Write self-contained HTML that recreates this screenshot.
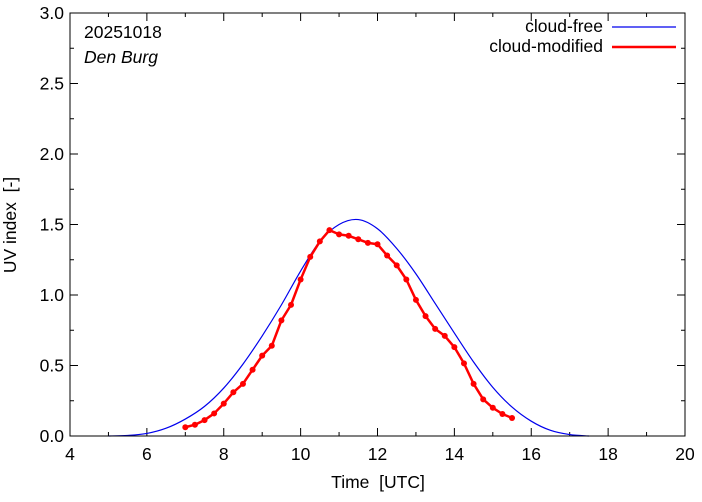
<!DOCTYPE html>
<html><head><meta charset="utf-8"><style>
body{margin:0;background:#fff;}
svg text{font-family:"Liberation Sans",sans-serif;font-size:17.5px;fill:#000;white-space:pre;}
</style></head><body>
<svg id="chart" width="702" height="497" xmlns="http://www.w3.org/2000/svg">
<g id="axes"></g>
<g id="series"></g>
<rect x="70" y="13" width="615" height="423" fill="none" stroke="#000" stroke-width="1"/>
<text x="84" y="38">20251018</text>
<text x="84" y="63" font-style="italic">Den Burg</text>
<g>
<text x="603" y="32" text-anchor="end">cloud-free</text>
<line x1="612" y1="27" x2="676" y2="27" stroke="#0000ee" stroke-width="1.2"/>
<text x="603" y="52" text-anchor="end">cloud-modified</text>
<line x1="612" y1="47" x2="676" y2="47" stroke="#ff0000" stroke-width="2.5"/>
</g>
<text x="378" y="488" text-anchor="middle">Time  [UTC]</text>
<text transform="translate(16,225) rotate(-90)" text-anchor="middle">UV index  [-]</text>
</svg>
<script>
const xTicks=[4,6,8,10,12,14,16,18,20];
const yTicks=[0,0.5,1,1.5,2,2.5,3];
const clearTimes=[5.0,5.5,6.0,6.5,7.0,7.5,8.0,8.5,9.0,9.5,10.0,10.5,11.0,11.5,12.0,12.5,13.0,13.5,14.0,14.5,15.0,15.5,16.0,16.5,17.0,17.5];
const clearUV=[0,0.004,0.018,0.055,0.12,0.21,0.34,0.51,0.71,0.93,1.17,1.38,1.50,1.535,1.47,1.33,1.15,0.94,0.73,0.525,0.345,0.205,0.105,0.04,0.01,0];
const cloudTimes=[7.0,7.25,7.5,7.75,8.0,8.25,8.5,8.75,9.0,9.25,9.5,9.75,10.0,10.25,10.5,10.75,11.0,11.25,11.5,11.75,12.0,12.25,12.5,12.75,13.0,13.25,13.5,13.75,14.0,14.25,14.5,14.75,15.0,15.25,15.5];
const cloudUV=[0.062,0.08,0.113,0.16,0.23,0.31,0.37,0.47,0.57,0.64,0.82,0.93,1.11,1.27,1.38,1.46,1.43,1.42,1.395,1.37,1.36,1.28,1.21,1.11,0.965,0.85,0.76,0.71,0.63,0.515,0.37,0.26,0.20,0.156,0.128];
const X0=70,X1=685,Y0=436,Y1=13;
const sx=v=>X0+(v-4)/16*(X1-X0);
const sy=v=>Y0-v/3*(Y0-Y1);
const NS="http://www.w3.org/2000/svg";
const ax=document.getElementById('axes'),se=document.getElementById('series');
function mk(t,a,p){const e=document.createElementNS(NS,t);for(const k in a)e.setAttribute(k,a[k]);p.appendChild(e);return e;}
xTicks.forEach((v,i)=>{
 const x=sx(v);
 const t=mk('text',{x:x,y:460,'text-anchor':'middle'},ax);t.textContent=v;
 
 
 mk('line',{x1:x,y1:Y0,x2:x,y2:Y0-8,stroke:'#000'},ax);
 mk('line',{x1:x,y1:Y1,x2:x,y2:Y1+8,stroke:'#000'},ax);
 if(i<xTicks.length-1){const m=sx(v+1);
 mk('line',{x1:m,y1:Y0,x2:m,y2:Y0-4,stroke:'#000'},ax);
 mk('line',{x1:m,y1:Y1,x2:m,y2:Y1+4,stroke:'#000'},ax);}
});
yTicks.forEach((v,i)=>{
 const y=sy(v);
 const t=mk('text',{x:X0-6,y:y+6,'text-anchor':'end'},ax);t.textContent=v.toFixed(1);
 
 
 mk('line',{x1:X0,y1:y,x2:X0+8,y2:y,stroke:'#000'},ax);
 mk('line',{x1:X1,y1:y,x2:X1-8,y2:y,stroke:'#000'},ax);
 if(i<yTicks.length-1){const m=sy(v+0.25);
 mk('line',{x1:X0,y1:m,x2:X0+4,y2:m,stroke:'#000'},ax);
 mk('line',{x1:X1,y1:m,x2:X1-4,y2:m,stroke:'#000'},ax);}
});
const P=clearTimes.map((t,i)=>[sx(t),sy(clearUV[i])]);
let d='M'+P[0][0]+','+P[0][1];
for(let i=0;i<P.length-1;i++){
 const p0=P[Math.max(0,i-1)],p1=P[i],p2=P[i+1],p3=P[Math.min(P.length-1,i+2)];
 d+=' C'+(p1[0]+(p2[0]-p0[0])/6)+','+(p1[1]+(p2[1]-p0[1])/6)+' '+(p2[0]-(p3[0]-p1[0])/6)+','+(p2[1]-(p3[1]-p1[1])/6)+' '+p2[0]+','+p2[1];
}
const cf=mk('path',{d:d,fill:'none',stroke:'#0000ee','stroke-width':1.2},se);


const cm=mk('polyline',{points:cloudTimes.map((t,i)=>sx(t)+','+sy(cloudUV[i])).join(' '),fill:'none',stroke:'#ff0000','stroke-width':2.5,'stroke-linejoin':'round'},se);


cloudTimes.forEach((t,i)=>{
 const c=mk('circle',{cx:sx(t),cy:sy(cloudUV[i]),r:3,fill:'#ff0000'},se);
 
 
});
</script>
</body></html>
